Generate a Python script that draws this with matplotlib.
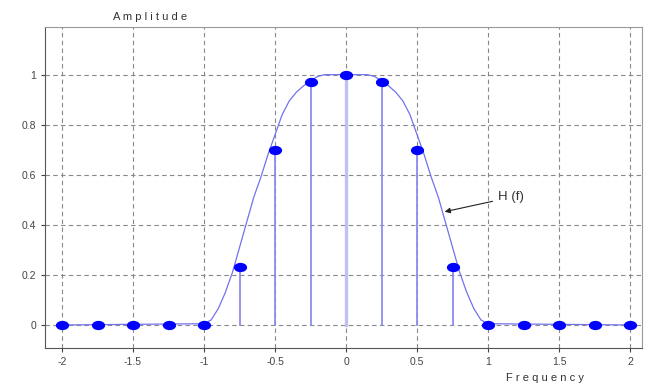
import numpy as np
import matplotlib.pyplot as plt
from matplotlib.path import Path
from matplotlib.transforms import Affine2D

# sampled points (dots + stems)
f_samples = [-2, -1.75, -1.5, -1.25, -1, -0.75, -0.5, -0.25, 0, 0.25, 0.5, 0.75, 1, 1.25, 1.5, 1.75, 2]
h_samples = [0, 0, 0, 0, 0, 0.23, 0.70, 0.97, 1.0, 0.97, 0.70, 0.23, 0, 0, 0, 0, 0]

# continuous H(f)
f_curve = [-2, -1, -0.95, -0.9, -0.85, -0.8, -0.75, -0.7, -0.65, -0.6, -0.55, -0.5, -0.45, -0.4, -0.35,
           -0.3, -0.25, -0.2, -0.15, 0, 0.15, 0.2, 0.25, 0.3, 0.35, 0.4, 0.45, 0.5, 0.55, 0.6, 0.65,
           0.7, 0.75, 0.8, 0.85, 0.9, 0.95, 1, 2]
h_curve = [0, 0.005, 0.02, 0.065, 0.13, 0.21, 0.31, 0.41, 0.51, 0.59, 0.68, 0.76, 0.84, 0.895, 0.93,
           0.955, 0.975, 0.993, 1.0, 1.0, 1.0, 0.993, 0.975, 0.955, 0.93, 0.895, 0.84, 0.76, 0.68, 0.59, 0.51,
           0.41, 0.31, 0.21, 0.13, 0.065, 0.02, 0.005, 0]

x_ticks = [-2, -1.5, -1, -0.5, 0, 0.5, 1, 1.5, 2]
x_labels = ["-2", "-1.5", "-1", "-0.5", "0", "0.5", "1", "1.5", "2"]
y_ticks = [0, 0.2, 0.4, 0.6, 0.8, 1]
y_labels = ["0", "0.2", "0.4", "0.6", "0.8", "1"]

plt.rcParams["font.family"] = ["Liberation Sans", "DejaVu Sans"]

fig = plt.figure(figsize=(6.48, 3.87), dpi=100)
ax = fig.add_axes([0.0694, 0.1008, 0.9216, 0.8292])

# flattened ellipse marker
ellipse = Path.unit_circle().transformed(Affine2D().scale(1.5, 1.0))

ax.plot(f_curve, h_curve, color="#7272ee", lw=0.9, zorder=3)
for f, h in zip(f_samples, h_samples):
    if h > 0:
        lw = 2.4 if f == 0 else 1.3
        col = "#c0c0f4" if f == 0 else "#8c8cf0"
        ax.plot([f, f], [0, h], color=col, lw=lw, zorder=2)
ax.plot(f_samples, h_samples, ls="none", marker=ellipse, ms=8.5, color="#0000ff", zorder=4)

ax.set_xlim(-2.12, 2.085)
ax.set_ylim(-0.092, 1.19)
ax.set_xticks(x_ticks)
ax.set_xticklabels(x_labels)
ax.set_yticks(y_ticks)
ax.set_yticklabels(y_labels)
ax.tick_params(labelsize=7.5, colors="#444444", length=3, width=0.8)
ax.grid(True, color="#888888", ls=(0, (4, 3)), lw=0.8)
for side in ["top", "right"]:
    ax.spines[side].set_color("#999999")
for side in ["left", "bottom"]:
    ax.spines[side].set_color("#555555")

ax.annotate("H (f)", xy=(0.675, 0.45), xytext=(1.07, 0.51), fontsize=9.5, color="#333333",
            va="center", arrowprops=dict(arrowstyle="-|>", color="#222222", lw=0.8, mutation_scale=8))

fig.text(150 / 648, 1 - 17 / 387, "A m p l i t u d e", ha="center", va="center", fontsize=8, color="#333333")
fig.text(545 / 648, 1 - 378 / 387, "F r e q u e n c y", ha="center", va="center", fontsize=8, color="#333333")

fig.savefig("out.png", dpi=100)
